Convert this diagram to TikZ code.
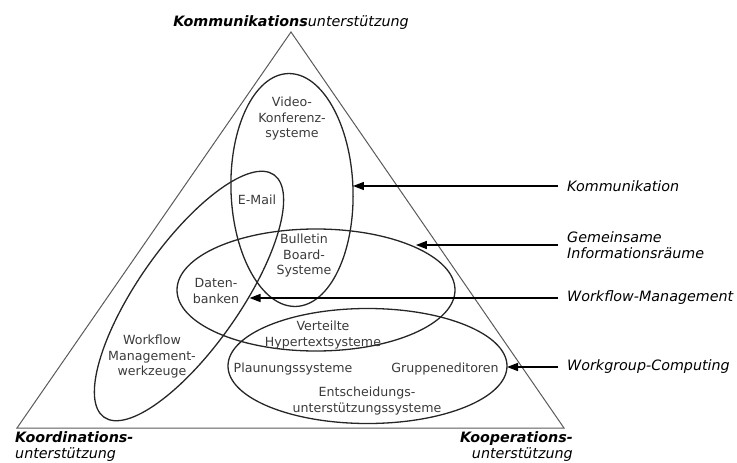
\documentclass[tikz,border=0pt]{standalone}
\usepackage{fontspec}
\setmainfont{DejaVu Sans}
\usepackage{tikz}
\usetikzlibrary{shapes.geometric, arrows.meta, positioning, calc}
\definecolor{linegray}{HTML}{262626}
\definecolor{textgray}{HTML}{3A3A3A}
\definecolor{trigray}{HTML}{5A5A5A}
\tikzset{
    area/.style={
        ellipse,
        draw=linegray,
        line width=1.3pt,
        inner sep=0pt,
        outer sep=0pt
    },
    system/.style={
        align=center,
        text=textgray,
        font=\fontsize{12.6}{15.5}\selectfont,
        inner sep=0pt
    },
    corner/.style={
        font=\fontsize{14.3}{16}\selectfont\itshape,
        inner sep=0pt
    },
    rlabel/.style={
        anchor=west,
        align=left,
        inner xsep=9pt,
        inner ysep=0pt,
        font=\fontsize{14.3}{15.5}\selectfont\itshape
    },
    pointer/.style={
        draw=black,
        line width=1.5pt,
        -{Triangle[length=11pt,width=8pt]}
    },
    frame/.style={
        draw=trigray,
        line width=1pt,
        line join=miter
    }
}

\begin{document}
\begin{tikzpicture}[x=1pt, y=-1pt]
\useasboundingbox (0,0) rectangle (737,463);

\coordinate (top) at (291,32);
\coordinate (left) at (17,428);
\coordinate (right) at (564,428);
\draw[frame] (top) -- (left) -- (right) -- cycle;

\node[corner, anchor=south] (kommTitle) at (291,30) {\textbf{Kommunikations}unterstützung};
\node[corner, anchor=north west, align=left] (koordTitle) at (15,431) {\textbf{Koordinations-}\\unterstützung};
\node[corner, anchor=north east, align=right] (koopTitle) at (573,431) {\textbf{Kooperations-}\\unterstützung};

\node[area, rotate=2, minimum width=122pt, minimum height=233pt] (video) at (292,190) {};
\node[area, rotate=55, minimum width=296pt, minimum height=102pt] (flow) at (189,296) {};
\node[area, minimum width=278pt, minimum height=122pt] (info) at (316,290) {};
\node[area, minimum width=279pt, minimum height=115pt] (group) at (367.5,366) {};

\node[system] (videoTxt) at (292,119) {Video-\\Konferenz-\\systeme};
\node[system] (mailTxt) at (257,200) {E-Mail};
\node[system] (bbsTxt) at (304,256) {Bulletin\\Board-\\Systeme};
\node[system] (dbTxt) at (216,291) {Daten-\\banken};
\node[system] (wfmTxt) at (152,357) {Workflow\\Management-\\werkzeuge};
\node[system] (hyperTxt) at (323,335) {Verteilte\\Hypertextsysteme};
\node[system] (planTxt) at (293,369) {Plaunungssysteme};
\node[system] (editTxt) at (445,369) {Gruppeneditoren};
\node[system] (essTxt) at (367,401) {Entscheidungs-\\unterstützungssysteme};

\node[rlabel] (kommLbl) at (558,186) {Kommunikation};
\node[rlabel] (infoLbl) at (558,245) {Gemeinsame\\Informationsräume};
\node[rlabel] (flowLbl) at (558,298) {Workflow-Management};
\node[rlabel] (groupLbl) at (558,367) {Workgroup-Computing};

\draw[pointer] (kommLbl.west) -- (kommLbl.west -| video.east);
\draw[pointer] (infoLbl.west) -- (infoLbl.west -| info.23);
\draw[pointer] (flowLbl.west) -- (flowLbl.west -| flow.-55);
\draw[pointer] (groupLbl.west) -- (groupLbl.west -| group.east);

\end{tikzpicture}
\end{document}
